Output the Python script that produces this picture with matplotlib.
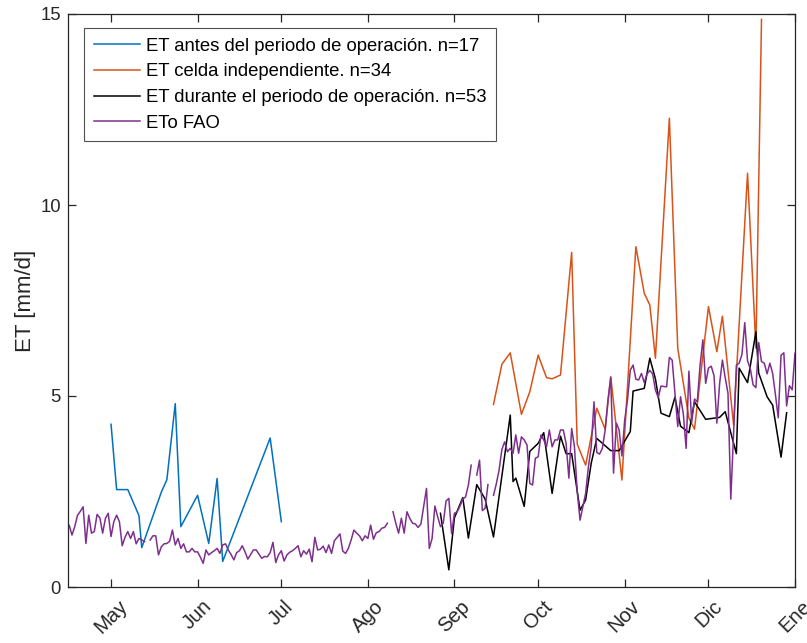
import numpy as np
import pandas as pd
import matplotlib
matplotlib.use("Agg")
import matplotlib.pyplot as plt

plt.rcParams['font.family'] = ['Liberation Sans', 'DejaVu Sans']

# --- ET before the operation period (n=17) ---
antes_fechas = ["2018-05-01", "2018-05-03", "2018-05-07", "2018-05-11", "2018-05-12",
                "2018-05-19", "2018-05-21", "2018-05-24", "2018-05-26", "2018-06-01",
                "2018-06-05", "2018-06-08", "2018-06-10", "2018-06-27", "2018-07-01"]
antes_et = [4.26, 2.55, 2.55, 1.87, 1.03, 2.48, 2.81, 4.80, 1.58, 2.40,
            1.14, 2.84, 0.67, 3.90, 1.71]

# --- ET independent cell (n=34) ---
celda_fechas = ["2018-09-15", "2018-09-18", "2018-09-21", "2018-09-25", "2018-09-28",
                "2018-10-01", "2018-10-04", "2018-10-06", "2018-10-09", "2018-10-13",
                "2018-10-15", "2018-10-18", "2018-10-22", "2018-10-25", "2018-10-27",
                "2018-10-31", "2018-11-05", "2018-11-08", "2018-11-10", "2018-11-12",
                "2018-11-17", "2018-11-20", "2018-11-24", "2018-11-26", "2018-12-01",
                "2018-12-04", "2018-12-06", "2018-12-10", "2018-12-15", "2018-12-18",
                "2018-12-20"]
celda_et = [4.78, 5.83, 6.13, 4.52, 5.11, 6.07, 5.48, 5.45, 5.55, 8.76,
            3.74, 3.19, 4.68, 4.13, 5.51, 2.80, 8.91, 7.69, 7.38, 5.99,
            12.27, 6.25, 4.42, 4.13, 7.34, 6.16, 7.09, 4.24, 10.83, 6.25,
            14.86]

# --- ET during the operation period (n=53) ---
durante_fechas = ["2018-08-27", "2018-08-30", "2018-09-01", "2018-09-04", "2018-09-06",
                  "2018-09-09", "2018-09-12", "2018-09-15", "2018-09-21", "2018-09-22",
                  "2018-09-23", "2018-09-26", "2018-09-28", "2018-10-01", "2018-10-03",
                  "2018-10-06", "2018-10-09", "2018-10-11", "2018-10-13", "2018-10-16",
                  "2018-10-18", "2018-10-20", "2018-10-22", "2018-10-27", "2018-10-30",
                  "2018-11-03", "2018-11-04", "2018-11-08", "2018-11-10", "2018-11-12",
                  "2018-11-14", "2018-11-17", "2018-11-19", "2018-11-21", "2018-11-24",
                  "2018-11-26", "2018-11-30", "2018-12-05", "2018-12-07", "2018-12-11",
                  "2018-12-12", "2018-12-15", "2018-12-18", "2018-12-19", "2018-12-22",
                  "2018-12-24", "2018-12-27", "2018-12-29"]
durante_et = [1.93, 0.45, 1.81, 2.34, 1.28, 2.68, 2.30, 1.31, 4.50, 2.76,
              2.85, 2.11, 3.55, 3.76, 4.04, 2.45, 3.95, 3.49, 3.49, 2.01,
              2.28, 3.24, 3.89, 3.57, 3.57, 4.07, 5.13, 5.20, 5.99, 5.45,
              4.55, 4.46, 4.97, 4.21, 4.04, 4.85, 4.39, 4.44, 4.59, 3.49,
              5.73, 5.35, 6.68, 5.60, 4.98, 4.76, 3.40, 4.56]

# --- Daily reference ETo (FAO), from 15 April; NaN = missing day ---
eto_inicio = "2018-04-15"
eto_fao = [
    1.39, 1.62, 1.36, 1.58, 1.88, 1.98, 2.10, 1.14, 1.88, 1.41,
    1.45, 1.90, 1.81, 1.41, 1.80, 1.93, 1.32, 1.71, 1.88, 1.71,
    1.08, 1.30, 1.45, 1.27, 1.45, 1.13, 1.27, 1.23, 1.19, np.nan,
    1.23, 1.34, 1.34, 0.84, 1.05, 1.13, 1.14, 1.20, 1.49, 1.10,
    1.27, 1.01, 1.13, 0.92, 0.92, 1.01, 0.92, 0.92, 0.78, 0.62,
    0.97, 0.84, 0.90, 0.95, 1.01, 0.88, 1.10, 1.13, 0.97, 0.85,
    0.71, 0.90, 0.95, 1.08, 0.92, 0.73, 0.85, 0.97, 0.97, 0.86,
    0.75, 0.80, 0.79, 0.90, 1.17, 0.64, 0.84, 0.95, 0.68, 0.84,
    0.91, 0.95, 1.01, 1.08, 0.79, 0.95, 0.86, 0.99, 0.66, 1.30,
    0.97, 0.99, 1.07, 0.90, 1.10, 0.88, 1.21, 1.30, 1.39, 0.94,
    0.88, 1.01, 1.23, 1.49, 1.41, 1.34, 1.21, 1.34, 1.27, 1.62,
    1.25, 1.42, 1.45, 1.54, 1.56, 1.67, np.nan, 1.97, 1.67, 1.41,
    1.80, 1.41, 1.97, 1.80, 1.67, 1.65, 1.56, 1.65, 2.12, 2.58,
    1.01, 1.27, 2.12, 1.84, 1.58, 1.67, 2.25, 2.32, 1.40, 1.93,
    1.97, 2.12, 2.30, 2.36, 2.67, 3.19, np.nan, 2.93, 3.32, 2.00,
    2.06, 2.68, np.nan, 2.40, 2.70, 3.06, 3.60, 3.80, 3.54, 3.63,
    3.50, 3.98, 3.50, 3.93, 3.85, 3.72, 2.71, 2.67, 3.37, 3.41,
    3.98, 3.85, 3.67, 4.11, 3.67, 3.85, 3.85, 4.11, 4.11, 3.76,
    2.85, 4.15, 3.67, 2.49, 1.75, 2.10, 2.45, 3.15, 3.67, 4.85,
    3.52, 3.48, 3.63, 4.11, 4.90, 5.48, 2.98, 4.29, 4.11, 3.43,
    4.37, 4.90, 5.68, 5.81, 5.44, 5.42, 5.59, 5.35, 5.58, 5.67,
    5.58, 5.16, 4.96, 5.26, 5.25, 5.24, 6.01, 5.94, 5.08, 4.20,
    4.98, 4.53, 3.63, 5.65, 4.31, 4.92, 4.85, 5.81, 6.47, 5.33,
    5.73, 5.78, 5.53, 4.29, 5.33, 5.94, 5.48, 5.07, 2.30, 4.02,
    5.81, 5.86, 6.09, 6.92, 5.92, 5.71, 5.29, 5.22, 6.40, 5.90,
    5.86, 5.58, 5.86, 5.59, 5.03, 4.43, 6.07, 6.13, 4.74, 5.27,
    5.16, 6.12,
]

etiquetas_mes = ["May", "Jun", "Jul", "Ago", "Sep", "Oct", "Nov", "Dic", "Ene"]
fechas_mes = ["2018-05-01", "2018-06-01", "2018-07-01", "2018-08-01", "2018-09-01",
              "2018-10-01", "2018-11-01", "2018-12-01", "2019-01-01"]

leyenda = ["ET antes del periodo de operación. n=17",
           "ET celda independiente. n=34",
           "ET durante el periodo de operación. n=53",
           "ETo FAO"]

colores = ["#0072BD", "#D95319", "#000000", "#7E2F8E"]
eje_color = "#262626"

fig = plt.figure(figsize=(8.07, 6.43), dpi=100)
ax = fig.add_axes([68 / 807, 1 - 587 / 643, (795 - 68) / 807, (587 - 14) / 643])

eto_fechas = pd.date_range(eto_inicio, periods=len(eto_fao), freq="D")

ax.plot(pd.to_datetime(antes_fechas), antes_et, color=colores[0], lw=1.1, label=leyenda[0])
ax.plot(pd.to_datetime(celda_fechas), celda_et, color=colores[1], lw=1.1, label=leyenda[1])
ax.plot(pd.to_datetime(durante_fechas), durante_et, color=colores[2], lw=1.1, label=leyenda[2])
ax.plot(eto_fechas, eto_fao, color=colores[3], lw=1.1, label=leyenda[3])

ax.set_xlim(pd.Timestamp("2018-04-15 14:00"), pd.Timestamp("2019-01-01"))
ax.set_ylim(0, 15)
ax.set_yticks([0, 5, 10, 15])
ax.set_xticks(pd.to_datetime(fechas_mes))
ax.set_xticklabels(etiquetas_mes, rotation=45, ha="center", va="top", fontsize=14.6)

ax.tick_params(direction="in", length=6, width=0.9, colors=eje_color,
               labelcolor=eje_color, top=True, right=True)
ax.tick_params(axis="y", labelsize=13.3, pad=5)
ax.tick_params(axis="x", pad=7)
for s in ax.spines.values():
    s.set_color(eje_color)
    s.set_linewidth(0.9)

ax.set_ylabel("ET [mm/d]", fontsize=16, color=eje_color, labelpad=3)

leg = ax.legend(loc="upper left", bbox_to_anchor=((84 - 68) / 727, (587 - 28) / 573),
                borderaxespad=0, fontsize=13.3, frameon=True, fancybox=False,
                handlelength=2.5, handletextpad=0.35, labelspacing=0.47,
                borderpad=0.52)
leg.get_frame().set_edgecolor(eje_color)
leg.get_frame().set_linewidth(0.8)
for t in leg.get_texts():
    t.set_color("#000000")

fig.savefig("out.png", dpi=100)
